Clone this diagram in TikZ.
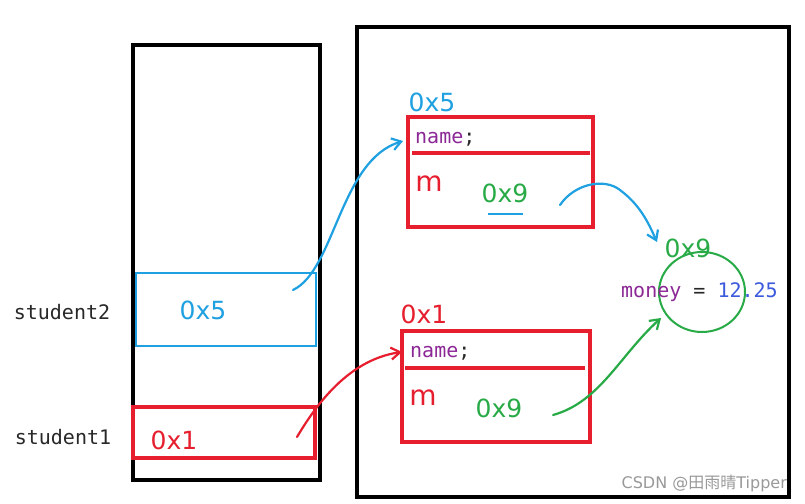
\documentclass[tikz,border=0pt]{standalone}
\usepackage{fontspec}
\setmainfont{DejaVu Sans}
\newfontfamily\monofont{DejaVu Sans Mono}
\newfontfamily\cjkfont{Noto Sans CJK SC}
\usetikzlibrary{arrows.meta,shapes.geometric}
\definecolor{cred}{RGB}{230,30,45}
\definecolor{cblue}{RGB}{30,160,225}
\definecolor{cgreen}{RGB}{40,170,70}
\definecolor{cpurple}{RGB}{140,40,150}
\definecolor{cnum}{RGB}{60,90,220}
\definecolor{cgray}{RGB}{40,40,40}
\tikzset{
  redbox/.style={draw=cred,line width=3.5pt},
  bluebox/.style={draw=cblue,line width=2.5pt},
  addr/.style={font=\fontsize{25}{25}\selectfont,inner sep=0pt},
  code/.style={font=\monofont\fontsize{20}{20}\selectfont,inner sep=0pt},
  hand/.style={line width=2.2pt,line cap=round,-{Straight Barb[length=9pt,width=12pt,line width=2.2pt]}},
}
\begin{document}
\begin{tikzpicture}[x=1pt,y=-1pt]
\useasboundingbox (0,0) rectangle (805,503);
\fill[white] (0,0) rectangle (805,503);
% stack and heap
\node[draw=black,line width=3.8pt,minimum width=187pt,minimum height=435pt,inner sep=0pt] (stack) at (226.5,262.5) {};
\node[draw=black,line width=3.8pt,minimum width=432pt,minimum height=470pt,inner sep=0pt] (heap) at (573,262) {};
% stack cells
\node[bluebox,minimum width=180pt,minimum height=73pt,inner sep=0pt] (cell2) at (226,309.5) {};
\node[redbox,minimum width=182pt,minimum height=51pt,inner sep=0pt] (cell1) at (224,432.5) {};
\node[addr,text=cblue] (v2) at (203,310) {0x5};
\node[addr,text=cred] (v1) at (174,440) {0x1};
\node[code,text=cgray] (l2) at (62,312) {student2};
\node[code,text=cgray] (l1) at (63,437) {student1};
% object 1
\node[redbox,minimum width=185pt,minimum height=110pt,inner sep=0pt] (obj1) at (500.5,172) {};
\draw[cred,line width=3.5pt] (412,153) coordinate (d1a) -- (590,153) coordinate (d1b);
\node[addr,text=cblue] (a1) at (432,102) {0x5};
\node[code,anchor=west] (n1) at (415,139) {\textcolor{cpurple}{name}\textcolor{cgray}{;}};
\node[addr,text=cred,font=\fontsize{28}{28}\selectfont] (m1) at (429,184) {m};
\node[addr,text=cgreen] (p1) at (505,193) {0x9};
\draw[cblue,line width=2.2pt] (488,214) coordinate (u1) -- (523,214) coordinate (u2);
% object 2
\node[redbox,minimum width=188pt,minimum height=111pt,inner sep=0pt] (obj2) at (496,386.5) {};
\draw[cred,line width=3.5pt] (405,368) coordinate (d2a) -- (585,368) coordinate (d2b);
\node[addr,text=cred] (a2) at (424,314) {0x1};
\node[code,anchor=west] (n2) at (410,353) {\textcolor{cpurple}{name}\textcolor{cgray}{;}};
\node[addr,text=cred,font=\fontsize{28}{28}\selectfont] (m2) at (423,398) {m};
\node[addr,text=cgreen] (p2) at (499,408) {0x9};
% money object
\node[ellipse,draw=cgreen,line width=2pt,minimum width=86pt,minimum height=80pt,inner sep=0pt] (money) at (702,292) {};
\node[addr,text=cgreen] (a3) at (688,248) {0x9};
\node[code,anchor=west] (mv) at (621,292) {\textcolor{cpurple}{money} \textcolor{cgray}{=} \textcolor{cnum}{12.25}};
% connectors
\coordinate (s2) at (293,290);
\coordinate (e2) at (403,141);
\draw[hand,cblue] (s2) .. controls (335,270) and (340,160) .. (e2);
\coordinate (s1) at (297,437);
\coordinate (e1) at (402,352);
\draw[hand,cred] (s1) .. controls (312,412) and (345,360) .. (e1);
\coordinate (s3) at (560,205);
\coordinate (e3) at (657,242);
\draw[hand,cblue] (s3) .. controls (575,183) and (605,178) .. (620,190) .. controls (640,205) and (648,222) .. (e3);
\coordinate (s4) at (553,415);
\coordinate (e4) at (661,318);
\draw[hand,cgreen] (s4) .. controls (600,402) and (620,355) .. (e4);
% watermark
\node[font=\fontsize{16}{16}\selectfont,text=gray!80,inner sep=0pt,anchor=east] (wm) at (787,483) {CSDN @{\cjkfont 田雨晴}Tipper};
\end{tikzpicture}
\end{document}
